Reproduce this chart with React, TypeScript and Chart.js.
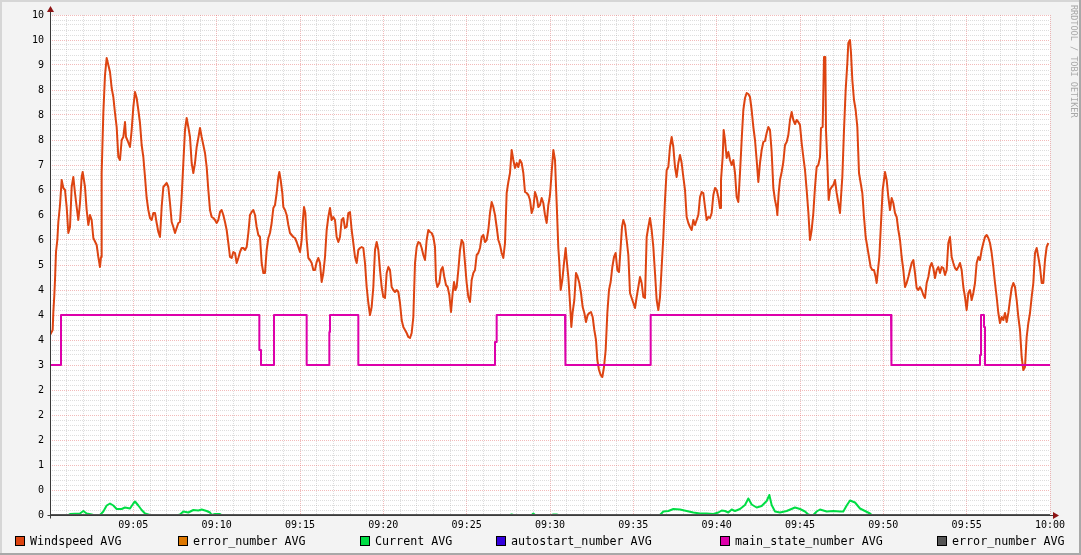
import React, { useEffect, useRef } from "react";
import { Chart, registerables } from "chart.js";

Chart.register(...registerables);

// ---------- data ----------
const xTickLabels = ["09:05", "09:10", "09:15", "09:20", "09:25", "09:30", "09:35", "09:40", "09:45", "09:50", "09:55", "10:00"];
// labels of the y axis at every 0.5 (index = value * 2), as printed by the tool
const yTickLabels = ["0", "0", "1", "2", "2", "2", "3", "4", "4", "4", "5", "6", "6", "6", "7", "8", "8", "8", "9", "10", "10"];

const legendNames = ["Windspeed AVG", "error_number AVG", "Current AVG", "autostart_number AVG", "main_state_number AVG", "error_number AVG"];
const seriesColors = ["#DD4411", "#DD7700", "#00DD44", "#3300DD", "#DD00AA", "#555555"];

// [minutes after 09:00, value]
const windspeed: [number, number][] = [
  [0,3.6],[0.16,3.7],[0.2,4.06],[0.26,4.4],[0.3,4.7],[0.36,5.26],[0.44,5.5],[0.5,5.86],[0.6,6.2],[0.7,6.7],
  [0.8,6.54],[0.9,6.5],[1,6.16],[1.1,5.64],[1.2,5.76],[1.3,6.56],[1.4,6.76],[1.5,6.44],[1.6,6.16],[1.7,5.9],
  [1.8,6.24],[1.9,6.76],[1.96,6.86],[2.1,6.56],[2.2,6.1],[2.3,5.8],[2.4,6],[2.5,5.9],[2.6,5.54],[2.8,5.4],
  [2.9,5.16],[3,4.96],[3.06,5.16],[3.1,6.84],[3.2,8.04],[3.3,8.8],[3.4,9.14],[3.5,9],[3.6,8.86],[3.7,8.54],
  [3.8,8.36],[3.9,8.04],[4,7.76],[4.1,7.16],[4.2,7.1],[4.3,7.5],[4.4,7.56],[4.5,7.86],[4.56,7.56],[4.64,7.5],
  [4.8,7.36],[4.9,7.7],[5,8.16],[5.1,8.46],[5.2,8.34],[5.3,8.1],[5.4,7.84],[5.5,7.4],[5.6,7.16],[5.7,6.76],
  [5.8,6.34],[5.9,6.1],[6,5.94],[6.1,5.9],[6.2,6.04],[6.3,6.04],[6.4,5.84],[6.5,5.66],[6.6,5.56],[6.7,6.16],
  [6.8,6.56],[6.9,6.6],[7,6.64],[7.1,6.56],[7.2,6.24],[7.3,5.86],[7.4,5.76],[7.5,5.64],[7.6,5.74],[7.7,5.84],
  [7.8,5.86],[7.9,6.36],[8,7.04],[8.1,7.7],[8.2,7.94],[8.3,7.76],[8.4,7.56],[8.5,7.04],[8.6,6.84],[8.7,7.04],
  [8.8,7.36],[8.9,7.54],[9,7.74],[9.1,7.56],[9.2,7.4],[9.3,7.24],[9.4,6.96],[9.5,6.5],[9.6,6.1],[9.7,5.96],
  [9.8,5.94],[9.9,5.9],[10,5.84],[10.1,5.9],[10.2,6.06],[10.3,6.1],[10.4,6],[10.5,5.86],[10.6,5.7],[10.7,5.44],
  [10.8,5.16],[10.9,5.14],[11,5.26],[11.1,5.24],[11.2,5.04],[11.3,5.14],[11.4,5.26],[11.5,5.34],[11.6,5.34],[11.7,5.3],
  [11.8,5.36],[11.9,5.64],[12,6],[12.1,6.06],[12.2,6.1],[12.3,6],[12.4,5.76],[12.5,5.6],[12.6,5.56],[12.7,5.04],
  [12.8,4.84],[12.9,4.84],[13,5.3],[13.1,5.54],[13.2,5.64],[13.3,5.84],[13.4,6.14],[13.5,6.2],[13.6,6.44],[13.7,6.76],
  [13.76,6.86],[13.84,6.7],[13.94,6.44],[14,6.16],[14.1,6.1],[14.2,6],[14.3,5.8],[14.4,5.64],[14.5,5.6],[14.6,5.56],
  [14.7,5.54],[14.8,5.46],[14.9,5.36],[15,5.26],[15.1,5.5],[15.16,5.84],[15.24,6.16],[15.32,6.04],[15.4,5.5],[15.5,5.14],
  [15.6,5.1],[15.7,5.04],[15.8,4.9],[15.9,4.9],[16,5.06],[16.1,5.14],[16.2,5.04],[16.3,4.66],[16.4,4.84],[16.5,5.16],
  [16.6,5.7],[16.7,5.96],[16.8,6.14],[16.9,5.9],[17,5.96],[17.1,5.9],[17.2,5.56],[17.3,5.46],[17.4,5.56],[17.5,5.9],
  [17.6,5.94],[17.7,5.74],[17.8,5.76],[17.9,6.04],[18,6.06],[18.1,5.7],[18.2,5.44],[18.3,5.16],[18.4,5.04],[18.5,5.3],
  [18.6,5.34],[18.7,5.36],[18.8,5.34],[18.9,5.04],[19,4.56],[19.1,4.24],[19.2,4],[19.3,4.16],[19.4,4.56],[19.5,5.3],
  [19.6,5.46],[19.7,5.3],[19.8,4.9],[19.9,4.56],[20,4.36],[20.1,4.34],[20.2,4.84],[20.3,4.96],[20.4,4.9],[20.5,4.56],
  [20.6,4.5],[20.7,4.46],[20.8,4.5],[20.9,4.46],[21,4.24],[21.1,3.9],[21.2,3.76],[21.3,3.7],[21.4,3.64],[21.5,3.56],
  [21.6,3.54],[21.7,3.64],[21.8,3.96],[21.9,5.04],[22,5.36],[22.1,5.46],[22.2,5.44],[22.3,5.34],[22.4,5.2],[22.5,5.1],
  [22.6,5.5],[22.7,5.7],[22.8,5.66],[22.9,5.64],[23,5.56],[23.1,5.36],[23.16,4.7],[23.24,4.56],[23.36,4.64],[23.46,4.9],
  [23.56,4.96],[23.66,4.76],[23.76,4.6],[23.86,4.56],[23.96,4.4],[24.06,4.06],[24.16,4.44],[24.24,4.66],[24.32,4.5],[24.4,4.56],
  [24.5,4.9],[24.6,5.3],[24.7,5.5],[24.8,5.44],[24.9,5.04],[25,4.64],[25.1,4.36],[25.2,4.26],[25.3,4.7],[25.4,4.84],
  [25.5,4.9],[25.6,5.2],[25.7,5.24],[25.8,5.34],[25.9,5.56],[26,5.6],[26.1,5.46],[26.2,5.5],[26.3,5.7],[26.4,6.04],
  [26.5,6.26],[26.6,6.16],[26.7,6],[26.8,5.76],[26.9,5.5],[27,5.4],[27.1,5.24],[27.2,5.14],[27.3,5.44],[27.4,6.44],
  [27.5,6.66],[27.6,6.84],[27.7,7.3],[27.8,7.1],[27.9,6.94],[28,7.04],[28.1,6.96],[28.2,7.1],[28.3,7.04],[28.4,6.84],
  [28.5,6.46],[28.6,6.44],[28.7,6.4],[28.8,6.3],[28.9,6.04],[29,6.14],[29.1,6.46],[29.2,6.36],[29.3,6.16],[29.4,6.2],
  [29.5,6.34],[29.6,6.24],[29.7,6],[29.8,5.84],[29.9,6.2],[30,6.4],[30.1,6.86],[30.2,7.3],[30.3,7.1],[30.4,6.24],
  [30.5,5.34],[30.56,5.04],[30.64,4.5],[30.74,4.7],[30.84,5.04],[30.94,5.34],[31,5.1],[31.1,4.76],[31.2,4.24],[31.28,3.76],
  [31.36,4.06],[31.46,4.3],[31.56,4.84],[31.66,4.76],[31.76,4.64],[31.86,4.44],[31.96,4.16],[32.06,4.04],[32.16,3.86],[32.26,4],
  [32.36,4.04],[32.46,4.06],[32.56,3.96],[32.66,3.7],[32.76,3.5],[32.84,3.1],[32.94,2.9],[33.04,2.8],[33.14,2.76],[33.24,2.96],
  [33.34,3.3],[33.44,4.04],[33.54,4.5],[33.64,4.66],[33.74,4.96],[33.84,5.16],[33.94,5.24],[34.04,4.9],[34.14,4.86],[34.24,5.36],
  [34.32,5.76],[34.4,5.9],[34.5,5.8],[34.6,5.5],[34.7,5.2],[34.8,4.44],[34.9,4.34],[35,4.24],[35.1,4.14],[35.2,4.36],
  [35.3,4.56],[35.4,4.76],[35.5,4.64],[35.6,4.36],[35.7,4.34],[35.8,5.56],[35.9,5.76],[36,5.94],[36.1,5.7],[36.2,5.36],
  [36.3,4.84],[36.4,4.3],[36.5,4.1],[36.6,4.36],[36.7,4.96],[36.8,5.56],[36.9,6.3],[37,6.9],[37.1,6.96],[37.2,7.36],
  [37.3,7.56],[37.4,7.36],[37.5,6.96],[37.6,6.76],[37.7,7.04],[37.8,7.2],[37.9,7.04],[38,6.76],[38.1,6.5],[38.2,5.96],
  [38.3,5.84],[38.4,5.76],[38.5,5.7],[38.6,5.9],[38.7,5.8],[38.8,5.9],[38.9,6],[39,6.36],[39.1,6.46],[39.2,6.44],
  [39.3,6.16],[39.4,5.9],[39.5,5.96],[39.6,5.94],[39.7,6.04],[39.8,6.4],[39.9,6.54],[40,6.5],[40.1,6.36],[40.2,6.14],
  [40.26,6.7],[40.36,7.16],[40.42,7.7],[40.5,7.5],[40.6,7.14],[40.7,7.26],[40.8,7.1],[40.9,7],[41,7.1],[41.1,6.84],
  [41.2,6.36],[41.3,6.26],[41.4,6.84],[41.5,7.5],[41.6,8.1],[41.7,8.34],[41.8,8.44],[41.9,8.42],[42,8.36],[42.1,8.1],
  [42.2,7.76],[42.3,7.5],[42.4,7.1],[42.5,6.66],[42.6,7.04],[42.7,7.3],[42.8,7.46],[42.9,7.48],[43,7.64],[43.1,7.76],
  [43.2,7.7],[43.3,7.26],[43.4,6.54],[43.5,6.3],[43.6,6.14],[43.64,6],[43.72,6.44],[43.8,6.7],[43.9,6.86],[44,7.06],
  [44.1,7.4],[44.2,7.46],[44.3,7.6],[44.4,7.9],[44.5,8.06],[44.6,7.9],[44.7,7.82],[44.8,7.9],[44.9,7.86],[45,7.8],
  [45.1,7.44],[45.2,7.16],[45.3,6.9],[45.4,6.5],[45.5,6.06],[45.6,5.5],[45.7,5.7],[45.8,6.04],[45.9,6.56],[46,6.96],
  [46.1,7],[46.2,7.16],[46.26,7.74],[46.36,7.76],[46.44,9.16],[46.52,9.16],[46.56,7.7],[46.64,7.04],[46.72,6.3],[46.8,6.5],
  [46.9,6.56],[47,6.6],[47.1,6.7],[47.2,6.44],[47.3,6.24],[47.4,6.04],[47.46,6.36],[47.54,6.76],[47.64,7.7],[47.74,8.5],
  [47.84,9.04],[47.9,9.44],[48,9.5],[48.06,9.24],[48.14,8.7],[48.24,8.3],[48.34,8.1],[48.44,7.76],[48.54,6.84],[48.64,6.64],
  [48.74,6.44],[48.84,5.96],[48.94,5.56],[49.04,5.36],[49.14,5.16],[49.24,4.96],[49.34,4.9],[49.44,4.9],[49.54,4.76],[49.6,4.64],
  [49.66,4.84],[49.76,5.16],[49.86,5.84],[49.96,6.5],[50.1,6.86],[50.2,6.7],[50.3,6.36],[50.4,6.1],[50.5,6.34],[50.6,6.24],
  [50.7,6.04],[50.8,5.96],[50.9,5.7],[51,5.5],[51.1,5.16],[51.2,4.9],[51.3,4.56],[51.4,4.64],[51.5,4.76],[51.6,4.9],
  [51.7,5.04],[51.8,5.1],[51.9,4.84],[52,4.54],[52.1,4.5],[52.2,4.56],[52.3,4.5],[52.4,4.4],[52.5,4.34],[52.6,4.64],
  [52.7,4.76],[52.8,4.96],[52.9,5.04],[53,4.94],[53.1,4.74],[53.2,4.9],[53.3,4.96],[53.4,4.84],[53.5,4.96],[53.6,4.94],
  [53.7,4.8],[53.8,4.9],[53.9,5.44],[54,5.56],[54.1,5.16],[54.2,5.04],[54.3,4.94],[54.4,4.9],[54.5,4.96],[54.6,5.04],
  [54.7,4.9],[54.8,4.56],[54.9,4.36],[55,4.1],[55.1,4.44],[55.2,4.5],[55.3,4.3],[55.4,4.44],[55.5,4.64],[55.6,5.04],
  [55.7,5.16],[55.8,5.1],[55.9,5.3],[56,5.44],[56.1,5.56],[56.2,5.6],[56.3,5.54],[56.4,5.44],[56.5,5.24],[56.6,4.96],
  [56.7,4.64],[56.8,4.36],[56.9,4.04],[57,3.84],[57.1,3.96],[57.2,3.9],[57.3,4.04],[57.4,3.86],[57.5,4.04],[57.6,4.3],
  [57.7,4.54],[57.8,4.64],[57.9,4.56],[58,4.3],[58.1,3.96],[58.2,3.7],[58.3,3.16],[58.4,2.9],[58.5,2.96],[58.6,3.56],
  [58.7,3.84],[58.8,4.04],[58.9,4.36],[59,4.64],[59.1,5.24],[59.2,5.34],[59.3,5.16],[59.4,4.96],[59.5,4.64],[59.6,4.64],
  [59.7,5.1],[59.8,5.36],[59.9,5.44],
];

const mainState: [number, number][] = [
  [0,3],[0.66,3],[0.66,4],[12.56,4],[12.56,3.3],[12.66,3.3],[12.66,3],[13.44,3],[13.44,4],[15.4,4],[15.4,3],
  [16.76,3],[16.76,3.66],[16.8,3.66],[16.8,4],[18.5,4],[18.5,3],[26.7,3],[26.7,3.46],[26.8,3.46],[26.8,4],
  [30.9,4],[30.9,3.3],[30.94,3.3],[30.94,3],[36.04,3],[36.04,4],[50.46,4],[50.46,3.66],[50.5,3.66],[50.5,3],
  [55.8,3],[55.8,3.2],[55.86,3.2],[55.86,4],[56.04,4],[56.04,3.76],[56.1,3.76],[56.1,3],[60,3],
];

const current: [number, number][] = [
  [0,0],[1.1,0],[1.2,0.02],[1.8,0.03],[2,0.08],[2.2,0.03],[2.5,0.01],[2.6,0],[3,0],[3.2,0.07],[3.4,0.19],
  [3.6,0.23],[3.8,0.19],[4,0.12],[4.3,0.12],[4.5,0.15],[4.8,0.13],[5,0.23],[5.1,0.27],[5.3,0.19],[5.5,0.1],
  [5.7,0.03],[6,0],[7.7,0],[7.8,0.01],[8,0.07],[8.3,0.05],[8.6,0.1],[8.9,0.09],[9.1,0.11],[9.4,0.08],[9.6,0.05],
  [9.7,0],[9.9,0.02],[10.2,0.02],[10.3,0],[27.6,0],[27.7,0.01],[27.8,0],[28.9,0],[29,0.03],[29.1,0],[30.1,0],
  [30.2,0.01],[30.4,0.01],[30.5,0],[36.6,0],[36.8,0.07],[37.1,0.08],[37.4,0.12],[37.8,0.11],[38.2,0.08],[38.6,0.05],
  [39,0.03],[39.4,0.03],[39.8,0.02],[40.1,0.05],[40.3,0.09],[40.5,0.08],[40.7,0.05],[40.9,0.11],[41.1,0.08],
  [41.4,0.12],[41.7,0.2],[41.9,0.33],[42.1,0.21],[42.4,0.15],[42.7,0.18],[43,0.28],[43.16,0.4],[43.3,0.2],
  [43.5,0.07],[43.8,0.05],[44.2,0.08],[44.7,0.15],[45,0.12],[45.3,0.07],[45.5,0.01],[45.6,0],[45.8,0],[46,0.07],
  [46.2,0.11],[46.6,0.07],[47,0.08],[47.4,0.07],[47.6,0.07],[47.8,0.19],[48,0.29],[48.3,0.25],[48.6,0.13],
  [48.9,0.08],[49.2,0.03],[49.3,0],[60,0],
];

const errorNumber: [number, number][] = [[0, 0], [60, 0]];
const autostartNumber: [number, number][] = [[0, 0], [60, 0]];

// ---------- layout / style ----------
const W = 1081;
const H = 555;
const MONO = '"DejaVu Sans Mono", monospace';
const legendX = [15, 178, 360, 496, 720, 937];
const MINOR_GRID = "rgba(150,150,150,0.32)";
const MAJOR_GRID = "rgba(225,90,90,0.42)";

const toPoints = (pairs: [number, number][]) => pairs.map(([x, y]) => ({ x, y }));

const framePlugin = {
  id: "rrdFrame",
  beforeDraw(chart: any) {
    const { ctx, chartArea } = chart;
    ctx.save();
    ctx.fillStyle = "#F3F3F3";
    ctx.fillRect(0, 0, W, H);
    ctx.fillStyle = "#FFFFFF";
    ctx.fillRect(chartArea.left, chartArea.top, chartArea.right - chartArea.left, chartArea.bottom - chartArea.top);
    ctx.fillStyle = "#D6D6D6";
    ctx.fillRect(0, 0, W, 2);
    ctx.fillRect(0, 0, 2, H);
    ctx.fillStyle = "#A8A8A8";
    ctx.fillRect(0, H - 2, W, 2);
    ctx.fillRect(W - 2, 0, 2, H);
    ctx.restore();
  },
  afterDatasetsDraw(chart: any) {
    const { ctx, chartArea } = chart;
    const { left, right, top, bottom } = chartArea;
    const ax = Math.round(left) + 0.5;
    const ay = Math.round(bottom) + 0.5;
    ctx.save();
    ctx.strokeStyle = "#3A3A3A";
    ctx.lineWidth = 1;
    ctx.beginPath();
    ctx.moveTo(ax, top - 3);
    ctx.lineTo(ax, ay + 3);
    ctx.moveTo(ax - 3, ay);
    ctx.lineTo(right + 3, ay);
    ctx.stroke();
    ctx.fillStyle = "#8E1515";
    ctx.beginPath();
    ctx.moveTo(ax - 3.5, top - 3);
    ctx.lineTo(ax + 3.5, top - 3);
    ctx.lineTo(ax, top - 9);
    ctx.closePath();
    ctx.fill();
    ctx.beginPath();
    ctx.moveTo(right + 3, ay - 3.5);
    ctx.lineTo(right + 3, ay + 3.5);
    ctx.lineTo(right + 9, ay);
    ctx.closePath();
    ctx.fill();
    ctx.restore();
  },
};

export default function App() {
  const canvasRef = useRef<HTMLCanvasElement | null>(null);

  useEffect(() => {
    if (!canvasRef.current) return;
    const common = { borderWidth: 2, pointRadius: 0, fill: false, tension: 0, borderJoinStyle: "round" as const };
    const chart = new Chart(canvasRef.current, {
      type: "line",
      data: {
        datasets: [
          { label: legendNames[0], data: toPoints(windspeed), borderColor: seriesColors[0], order: 6, ...common },
          { label: legendNames[1], data: toPoints(errorNumber), borderColor: seriesColors[1], order: 5, ...common },
          { label: legendNames[2], data: toPoints(current), borderColor: seriesColors[2], order: 4, ...common },
          { label: legendNames[3], data: toPoints(autostartNumber), borderColor: seriesColors[3], order: 3, ...common },
          { label: legendNames[4], data: toPoints(mainState), borderColor: seriesColors[4], order: 2, ...common },
          { label: legendNames[5], data: toPoints(errorNumber), borderColor: seriesColors[5], order: 1, ...common },
        ],
      },
      options: {
        animation: false,
        responsive: false,
        devicePixelRatio: 1,
        events: [],
        layout: { padding: { top: 15, right: 31, bottom: 0, left: 0 } },
        plugins: { legend: { display: false }, tooltip: { enabled: false }, title: { display: false } },
        scales: {
          x: {
            type: "linear",
            min: 0,
            max: 60,
            afterFit: (s: any) => { s.height = 40; },
            grid: {
              drawTicks: false,
              lineWidth: 1,
              color: (c: any) => (c.tick && c.tick.value % 5 === 0 ? MAJOR_GRID : MINOR_GRID),
            },
            border: { display: false, dash: [1, 1] },
            ticks: {
              stepSize: 1,
              autoSkip: false,
              maxRotation: 0,
              minRotation: 0,
              padding: 4,
              color: "#000",
              font: { family: MONO, size: 10 },
              callback: (v: any) => {
                const n = Number(v);
                return n % 5 === 0 && n >= 5 ? xTickLabels[n / 5 - 1] : "";
              },
            },
          },
          y: {
            type: "linear",
            min: 0,
            max: 10,
            afterFit: (s: any) => { s.width = 50; },
            grid: {
              drawTicks: false,
              lineWidth: 1,
              color: (c: any) => {
                const k = c.tick ? c.tick.value * 2 : 0.3;
                return Math.abs(k - Math.round(k)) < 1e-6 ? MAJOR_GRID : MINOR_GRID;
              },
            },
            border: { display: false, dash: [1, 1] },
            ticks: {
              stepSize: 0.1,
              autoSkip: false,
              padding: 6,
              color: "#000",
              font: { family: MONO, size: 10 },
              callback: (v: any) => {
                const k = Number(v) * 2;
                return Math.abs(k - Math.round(k)) < 1e-6 ? yTickLabels[Math.round(k)] : "";
              },
            },
          },
        },
      },
      plugins: [framePlugin],
    });
    return () => chart.destroy();
  }, []);

  return (
    <div style={{ position: "absolute", left: 0, top: 0, width: W, height: H }}>
      <canvas ref={canvasRef} width={W} height={H} style={{ position: "absolute", left: 0, top: 0, width: W, height: H }} />
      {legendNames.map((name, i) => (
        <React.Fragment key={i}>
          <div
            style={{
              position: "absolute",
              left: legendX[i],
              top: 536,
              width: 8,
              height: 8,
              background: seriesColors[i],
              border: "1px solid #000",
            }}
          />
          <div
            style={{
              position: "absolute",
              left: legendX[i] + 15,
              top: 534,
              fontFamily: MONO,
              fontSize: "11.7px",
              lineHeight: "14px",
              color: "#000",
              whiteSpace: "pre",
            }}
          >
            {name}
          </div>
        </React.Fragment>
      ))}
      <div
        style={{
          position: "absolute",
          left: 1069,
          top: 5,
          writingMode: "vertical-rl",
          fontFamily: MONO,
          fontSize: "8.5px",
          lineHeight: "10px",
          color: "#A8A8A8",
          whiteSpace: "pre",
        }}
      >
        RRDTOOL / TOBI OETIKER
      </div>
    </div>
  );
}
